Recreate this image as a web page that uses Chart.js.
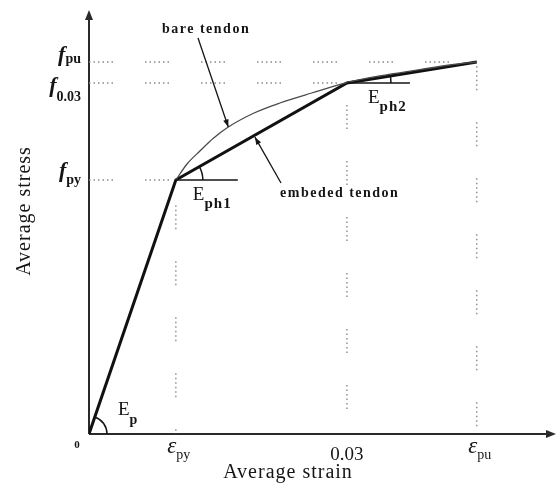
<!DOCTYPE html>
<html lang="en">
<head>
<meta charset="UTF-8">
<title>Average stress vs average strain</title>
<script src="https://cdn.jsdelivr.net/npm/chart.js"></script>
<style>
  html, body { margin: 0; padding: 0; background: #fff; }
  #wrap { width: 558px; height: 494px; }
</style>
</head>
<body>
<div id="wrap"><canvas id="tendonChart" width="558" height="494"></canvas></div>
<script>
// values (strain, stress in MPa)
const strainMax = 0.0542;
const stressMax = 2110;

const epsPy = 0.0101;
const eps003 = 0.03;
const epsPu = 0.0451;
const fPy = 1270;
const f003 = 1755;
const fPu = 1860;

const embeddedStrain = [0, epsPy, eps003, epsPu];
const embeddedStress = [0, fPy, f003, fPu];

const bareStrain = [0.0101, 0.0114, 0.0129, 0.0145, 0.0162, 0.0192, 0.0222, 0.0259, 0.0300, 0.0338, 0.0385, 0.0420, 0.0451];
const bareStress = [1270, 1350, 1415, 1480, 1535, 1605, 1655, 1705, 1757, 1790, 1822, 1845, 1860];

const strainTicks = [epsPy, eps003, epsPu];
const strainTickMain = ['ε', '0.03', 'ε'];
const strainTickSub = ['py', '', 'pu'];

const stressTicks = [fPy, f003, fPu];
const stressTickMain = ['f', 'f', 'f'];
const stressTickSub = ['py', '0.03', 'pu'];

const SERIF = '"Liberation Serif", "DejaVu Serif", serif';
const dotted = [1.5, 3, 1.5, 3, 1.5, 3, 1.5, 3, 1.5, 3, 1.5, 32];

function pts(xs, ys) {
    return xs.map((x, i) => ({ x: x, y: ys[i] }));
}

function refLine(strain, stress) {
    return {
        data: [{ x: 0, y: stress }, { x: strain, y: stress }, { x: strain, y: 0 }],
        showLine: true,
        borderColor: '#8a8a8a',
        borderWidth: 1.4,
        borderDash: dotted,
        pointRadius: 0,
        tension: 0
    };
}

function subText(ctx, main, sub, x, y, mainFont, subFont, align, subDy, spacing) {
    ctx.font = mainFont;
    ctx.letterSpacing = '0px';
    const w1 = ctx.measureText(main).width;
    ctx.font = subFont;
    ctx.letterSpacing = spacing || '0px';
    const w2 = sub ? ctx.measureText(sub).width : 0;
    let x0 = x;
    if (align === 'center') x0 = x - (w1 + w2) / 2;
    if (align === 'right') x0 = x - (w1 + w2);
    ctx.textAlign = 'left';
    ctx.textBaseline = 'alphabetic';
    ctx.font = mainFont;
    ctx.letterSpacing = '0px';
    ctx.fillText(main, x0, y);
    if (sub) {
        ctx.font = subFont;
        ctx.letterSpacing = spacing || '0px';
        ctx.fillText(sub, x0 + w1, y + subDy);
    }
    ctx.letterSpacing = '0px';
}

function arrow(ctx, x1, y1, x2, y2, head) {
    const a = Math.atan2(y2 - y1, x2 - x1);
    ctx.beginPath();
    ctx.moveTo(x1, y1);
    ctx.lineTo(x2, y2);
    ctx.stroke();
    ctx.beginPath();
    ctx.moveTo(x2, y2);
    ctx.lineTo(x2 - head * Math.cos(a - 0.35), y2 - head * Math.sin(a - 0.35));
    ctx.lineTo(x2 - head * Math.cos(a + 0.35), y2 - head * Math.sin(a + 0.35));
    ctx.closePath();
    ctx.fill();
}

const axesPlugin = {
    id: 'axesPlugin',
    beforeDatasetsDraw(chart) {
        const ctx = chart.ctx;
        const xs = chart.scales.x, ys = chart.scales.y;
        const ox = xs.getPixelForValue(0), oy = ys.getPixelForValue(0);
        const top = ys.getPixelForValue(stressMax) - 2;
        const right = xs.getPixelForValue(strainMax) + 1;
        ctx.save();
        ctx.strokeStyle = '#2a2a2a';
        ctx.fillStyle = '#2a2a2a';
        ctx.lineWidth = 2;
        ctx.beginPath();
        ctx.moveTo(ox, oy);
        ctx.lineTo(ox, top + 6);
        ctx.moveTo(ox, oy);
        ctx.lineTo(right - 6, oy);
        ctx.stroke();
        ctx.beginPath();
        ctx.moveTo(ox, top);
        ctx.lineTo(ox - 4, top + 10);
        ctx.lineTo(ox + 4, top + 10);
        ctx.closePath();
        ctx.fill();
        ctx.beginPath();
        ctx.moveTo(right, oy);
        ctx.lineTo(right - 10, oy - 4);
        ctx.lineTo(right - 10, oy + 4);
        ctx.closePath();
        ctx.fill();
        ctx.restore();
    },
    afterDatasetsDraw(chart) {
        const ctx = chart.ctx;
        const xs = chart.scales.x, ys = chart.scales.y;
        const px = v => xs.getPixelForValue(v);
        const py = v => ys.getPixelForValue(v);
        const ox = px(0), oy = py(0);
        ctx.save();
        ctx.fillStyle = '#151515';
        ctx.strokeStyle = '#151515';

        // tick labels on the strain axis
        strainTicks.forEach((t, i) => {
            if (strainTickSub[i]) {
                subText(ctx, strainTickMain[i], strainTickSub[i], px(t) + 3, oy + 19,
                    'italic 23px ' + SERIF, '14px ' + SERIF, 'center', 6);
            } else {
                subText(ctx, strainTickMain[i], '', px(t), oy + 26,
                    '19px ' + SERIF, '14px ' + SERIF, 'center', 0);
            }
        });
        ctx.font = 'bold 11px ' + SERIF;
        ctx.textAlign = 'center';
        ctx.fillText('0', ox - 12, oy + 14);

        // tick labels on the stress axis
        const stressDy = [[-3, 4], [9, 18], [-1, 1]];
        stressTicks.forEach((t, i) => {
            subText(ctx, stressTickMain[i], stressTickSub[i], ox - 8, py(t) + stressDy[i][0],
                'bold italic 22px ' + SERIF, 'bold 14px ' + SERIF, 'right', stressDy[i][1] - stressDy[i][0]);
        });

        // axis titles
        ctx.font = '20px ' + SERIF;
        ctx.letterSpacing = '1px';
        ctx.textAlign = 'center';
        ctx.textBaseline = 'alphabetic';
        ctx.fillText('Average strain', 288, oy + 44);
        ctx.save();
        ctx.translate(25, 211);
        ctx.rotate(-Math.PI / 2);
        ctx.textBaseline = 'middle';
        ctx.fillText('Average stress', 0, 0);
        ctx.restore();
        ctx.letterSpacing = '0px';

        // slope markers
        const yx = px(epsPy), yy = py(fPy);
        const cx = px(eps003), cy = py(f003);
        const ux = px(epsPu), uy = py(fPu);
        ctx.lineWidth = 1.5;
        ctx.beginPath();
        ctx.arc(ox, oy, 18, Math.atan2(yy - oy, yx - ox), 0);
        ctx.stroke();
        ctx.beginPath();
        ctx.moveTo(yx, yy);
        ctx.lineTo(yx + 62, yy);
        ctx.stroke();
        ctx.beginPath();
        ctx.arc(yx, yy, 27, Math.atan2(cy - yy, cx - yx), 0);
        ctx.stroke();
        ctx.beginPath();
        ctx.moveTo(cx, cy);
        ctx.lineTo(cx + 63, cy);
        ctx.stroke();
        ctx.beginPath();
        ctx.arc(cx, cy, 44, Math.atan2(uy - cy, ux - cx), 0);
        ctx.stroke();

        subText(ctx, 'E', 'p', ox + 29, oy - 19, '19px ' + SERIF, 'bold 14px ' + SERIF, 'left', 9);
        subText(ctx, 'E', 'ph1', yx + 17, yy + 20, '19px ' + SERIF, 'bold 15px ' + SERIF, 'left', 8, '1px');
        subText(ctx, 'E', 'ph2', cx + 21, cy + 20, '19px ' + SERIF, 'bold 15px ' + SERIF, 'left', 8, '1px');

        // callouts
        ctx.lineWidth = 1.3;
        const bx = px(bareStrain[4]), by = py(bareStress[4]);
        arrow(ctx, 198, 38, bx, by, 8);
        const eS = 0.0193;
        const eF = fPy + (eS - epsPy) / (eps003 - epsPy) * (f003 - fPy);
        arrow(ctx, 281, 183, px(eS), py(eF) + 2, 8);

        ctx.font = 'bold 14px ' + SERIF;
        ctx.letterSpacing = '1.5px';
        ctx.textAlign = 'left';
        ctx.textBaseline = 'alphabetic';
        ctx.fillText('bare tendon', 162, 33);
        ctx.fillText('embeded tendon', 280, 197);
        ctx.letterSpacing = '0px';
        ctx.restore();
    }
};

new Chart(document.getElementById('tendonChart'), {
    type: 'scatter',
    data: {
        datasets: [
            refLine(epsPu, fPu),
            refLine(eps003, f003),
            refLine(epsPy, fPy),
            {
                label: 'bare tendon',
                data: pts(bareStrain, bareStress),
                showLine: true,
                borderColor: '#4a4a4a',
                borderWidth: 1.3,
                pointRadius: 0,
                cubicInterpolationMode: 'monotone'
            },
            {
                label: 'embeded tendon',
                data: pts(embeddedStrain, embeddedStress),
                showLine: true,
                borderColor: '#111',
                borderWidth: 3,
                pointRadius: 0,
                tension: 0
            }
        ]
    },
    options: {
        responsive: false,
        animation: false,
        layout: { padding: { left: 89, right: 3, top: 12, bottom: 60 } },
        plugins: { legend: { display: false }, tooltip: { enabled: false } },
        scales: {
            x: { type: 'linear', min: 0, max: strainMax, display: false },
            y: { type: 'linear', min: 0, max: stressMax, display: false }
        }
    },
    plugins: [axesPlugin]
});
</script>
</body>
</html>
